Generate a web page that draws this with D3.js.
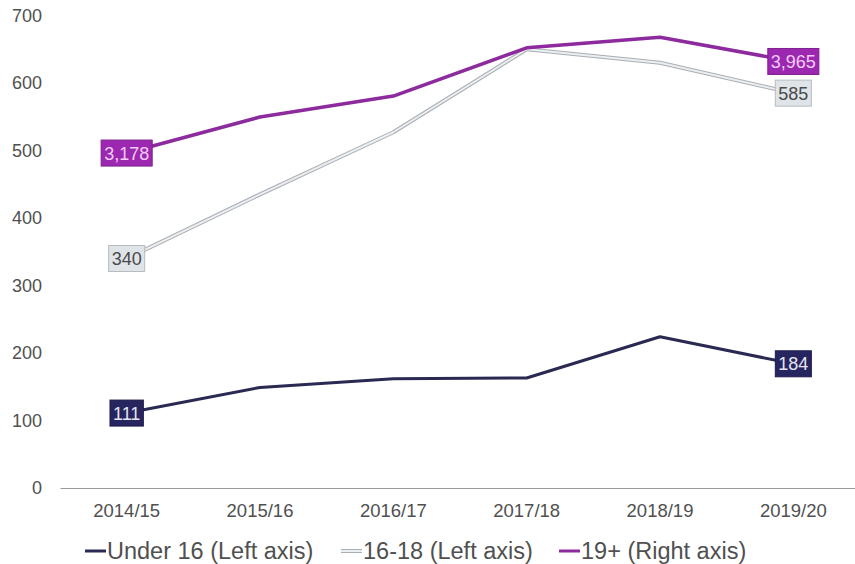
<!DOCTYPE html>
<html>
<head>
<meta charset="utf-8">
<script src="https://cdn.jsdelivr.net/npm/d3@7"></script>
<style>
  body { margin: 0; background: #fff; }
  svg text { font-family: "Liberation Sans", Arial, sans-serif; }
</style>
</head>
<body>
<svg id="chart"></svg>
<script>
const width = 855;
const height = 564;

const years = ['2014/15', '2015/16', '2016/17', '2017/18', '2018/19', '2019/20'];
const under16 = [111, 149, 162, 163, 224, 184];
const age1618 = [340, 435, 527, 650, 630, 585];
const age19plus = [3178, 3488, 3668, 4082, 4173, 3965];
const leftTicks = [0, 100, 200, 300, 400, 500, 600, 700];
const legendNames = ['Under 16 (Left axis)', '16-18 (Left axis)', '19+ (Right axis)'];

const svg = d3.select('#chart')
  .attr('width', width)
  .attr('height', height);

const x = d3.scaleBand().domain(years).range([60, 860]);
const y = d3.scaleLinear().domain([0, 700]).range([488, 15.5]);
// right axis is not drawn in the original
const yRight = d3.scaleLinear().domain([300, 4360]).range([488, 15.5]);

const cx = d => x(d) + x.bandwidth() / 2;

// left axis labels
svg.append('g')
  .selectAll('text')
  .data(leftTicks)
  .enter()
  .append('text')
  .attr('x', 42)
  .attr('y', d => y(d))
  .attr('dy', '0.35em')
  .attr('text-anchor', 'end')
  .attr('font-size', 18)
  .attr('fill', '#505050')
  .text(d => d);

// x axis
const xAxis = svg.append('g').attr('transform', `translate(0, ${y(0)})`)
  .call(d3.axisBottom(x).tickSize(0).tickPadding(16));
xAxis.select('.domain').attr('stroke', '#9a9a9a').attr('stroke-width', 1);
xAxis.selectAll('text')
  .attr('font-size', 18.5)
  .attr('fill', '#505050')
  .attr('font-family', '"Liberation Sans", Arial, sans-serif');

const lineLeft = d3.line().x((d, i) => cx(years[i])).y(d => y(d));
const lineRight = d3.line().x((d, i) => cx(years[i])).y(d => yRight(d));

// 16-18: light line with dark edge
svg.append('path').datum(age1618)
  .attr('fill', 'none').attr('stroke', '#a9aeb3').attr('stroke-width', 4)
  .attr('stroke-linejoin', 'round').attr('d', lineLeft);
svg.append('path').datum(age1618)
  .attr('fill', 'none').attr('stroke', '#eceff2').attr('stroke-width', 2)
  .attr('stroke-linejoin', 'round').attr('d', lineLeft);

// 19+
svg.append('path').datum(age19plus)
  .attr('fill', 'none').attr('stroke', '#8c2a9e').attr('stroke-width', 3.5)
  .attr('stroke-linejoin', 'round').attr('d', lineRight);

// under 16
svg.append('path').datum(under16)
  .attr('fill', 'none').attr('stroke', '#2a2952').attr('stroke-width', 3)
  .attr('stroke-linejoin', 'round').attr('d', lineLeft);

// end labels
function endLabel(px, py, txt, fill, stroke, color) {
  const g = svg.append('g');
  const t = g.append('text')
    .attr('x', px).attr('y', py).attr('dy', '0.36em')
    .attr('text-anchor', 'middle')
    .attr('font-size', 18)
    .attr('fill', color)
    .text(txt);
  const bb = t.node().getBBox();
  g.insert('rect', 'text')
    .attr('x', bb.x - 3).attr('y', py - 13)
    .attr('width', bb.width + 6).attr('height', 26)
    .attr('fill', fill)
    .attr('stroke', stroke)
    .attr('stroke-width', 1);
}

const fmt = d3.format(',');
const last = years.length - 1;
endLabel(cx(years[0]), y(age1618[0]), fmt(age1618[0]), '#dfe4e8', '#b8bcc0', '#4a4a4a');
endLabel(cx(years[last]), y(age1618[last]), fmt(age1618[last]), '#dfe4e8', '#b8bcc0', '#4a4a4a');
endLabel(cx(years[0]), yRight(age19plus[0]), fmt(age19plus[0]), '#9c27b0', '#7f1f90', '#f3cdf8');
endLabel(cx(years[last]), yRight(age19plus[last]), fmt(age19plus[last]), '#9c27b0', '#7f1f90', '#f3cdf8');
endLabel(cx(years[0]), y(under16[0]), fmt(under16[0]), '#272560', '#1d1b4a', '#e4e4ee');
endLabel(cx(years[last]), y(under16[last]), fmt(under16[last]), '#272560', '#1d1b4a', '#e4e4ee');

// legend
const legendX = [85, 341, 559];
const legendColors = ['#2a2952', '#d0d4d8', '#8c2a9e'];
const legend = svg.append('g');
legendNames.forEach((name, i) => {
  if (i === 1) {
    legend.append('line')
      .attr('x1', legendX[i]).attr('x2', legendX[i] + 21)
      .attr('y1', 551).attr('y2', 551)
      .attr('stroke', '#a9aeb3').attr('stroke-width', 4);
  }
  legend.append('line')
    .attr('x1', legendX[i]).attr('x2', legendX[i] + 21)
    .attr('y1', 551).attr('y2', 551)
    .attr('stroke', i === 1 ? '#eceff2' : legendColors[i])
    .attr('stroke-width', i === 1 ? 2 : 3);
  legend.append('text')
    .attr('x', legendX[i] + 22)
    .attr('y', 551)
    .attr('dy', '0.36em')
    .attr('font-size', 23.5)
    .attr('fill', '#505050')
    .text(name);
});
</script>
</body>
</html>
